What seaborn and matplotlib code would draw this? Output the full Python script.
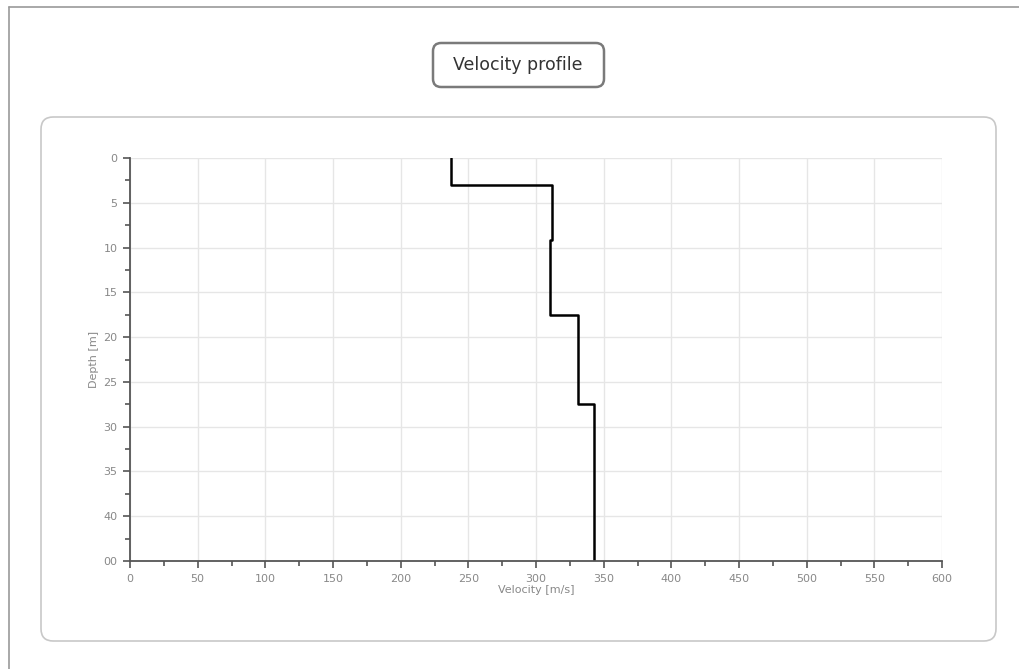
import matplotlib
matplotlib.use("Agg")
import matplotlib.pyplot as plt
from matplotlib.patches import FancyBboxPatch
from matplotlib.lines import Line2D
from matplotlib.ticker import MultipleLocator, FixedLocator
import seaborn as sns
import pandas as pd

# Layered shear-wave velocity model
layer_top = [0, 3, 9.2, 17.5, 27.5]
layer_bottom = [3, 9.2, 17.5, 27.5, 45]
velocity = [237, 312, 310, 331, 343]

x_ticks = [0, 50, 100, 150, 200, 250, 300, 350, 400, 450, 500, 550, 600]
y_ticks = [0, 5, 10, 15, 20, 25, 30, 35, 40, 45]
y_tick_labels = ["0", "5", "10", "15", "20", "25", "30", "35", "40", "00"]

title = "Velocity profile"
x_label = "Velocity [m/s]"
y_label = "Depth [m]"

# Stair-step profile: each layer contributes its top and bottom point
rows = []
for top, bot, v in zip(layer_top, layer_bottom, velocity):
    rows.append({"Velocity": v, "Depth": top})
    rows.append({"Velocity": v, "Depth": bot})
profile = pd.DataFrame(rows)

sns.set_theme(style="white")
plt.rcParams["font.family"] = ["DejaVu Sans"]

W, H = 1020, 669
fig = plt.figure(figsize=(W / 100, H / 100), dpi=100)
fig.patch.set_facecolor("white")

def fx(px):
    return px / W

def fy(py):
    return 1 - py / H

# Outer window frame (top and left edges)
fig.add_artist(Line2D([fx(9), 1.0], [fy(7), fy(7)], transform=fig.transFigure,
                      color="#9a9a9a", lw=1.2, zorder=-5))
fig.add_artist(Line2D([fx(9), fx(9)], [fy(7), 0.0], transform=fig.transFigure,
                      color="#9a9a9a", lw=1.2, zorder=-5))

# Rounded chart panel
panel = FancyBboxPatch((fx(41), fy(641)), fx(996) - fx(41), fy(117) - fy(641),
                       boxstyle="round,pad=0,rounding_size=0.012",
                       transform=fig.transFigure, facecolor="white",
                       edgecolor="#c8c8c8", lw=1.2, mutation_aspect=W / H,
                       zorder=-5)
fig.add_artist(panel)

# Title box
tbox = FancyBboxPatch((fx(433), fy(87)), fx(604) - fx(433), fy(43) - fy(87),
                      boxstyle="round,pad=0,rounding_size=0.008",
                      transform=fig.transFigure, facecolor="white",
                      edgecolor="#7a7a7a", lw=1.8, mutation_aspect=W / H,
                      zorder=-5)
fig.add_artist(tbox)
fig.text(fx(518), fy(65), title, ha="center", va="center", fontsize=12.5,
         color="#333333", family="DejaVu Sans")

ax = fig.add_axes([fx(130), fy(561), fx(942) - fx(130), fy(158) - fy(561)])
ax.set_zorder(5)
ax.patch.set_alpha(0)

sns.lineplot(data=profile, x="Velocity", y="Depth", sort=False, estimator=None,
             color="black", lw=1.8, ax=ax)

ax.set_xlim(0, 600)
ax.set_ylim(45, 0)
ax.xaxis.set_major_locator(FixedLocator(x_ticks))
ax.xaxis.set_minor_locator(MultipleLocator(25))
ax.yaxis.set_major_locator(FixedLocator(y_ticks))
ax.yaxis.set_minor_locator(MultipleLocator(2.5))
ax.set_yticklabels(y_tick_labels)

ax.grid(True, which="major", color="#e6e6e6", lw=1.0)
ax.set_axisbelow(True)

for side in ("top", "right"):
    ax.spines[side].set_visible(False)
for side in ("left", "bottom"):
    ax.spines[side].set_color("#555555")
    ax.spines[side].set_linewidth(1.3)

ax.tick_params(axis="both", which="major", direction="out", length=5, width=1.2,
               color="#555555", labelsize=8, labelcolor="#888888", pad=4,
               left=True, bottom=True)
ax.tick_params(axis="both", which="minor", direction="out", length=3.5, width=1.2,
               color="#555555", left=True, bottom=True)

ax.set_xlabel(x_label, fontsize=8, color="#888888", labelpad=1)
ax.set_ylabel(y_label, fontsize=8, color="#888888", labelpad=3)

fig.savefig("out.png", dpi=100, facecolor="white")
